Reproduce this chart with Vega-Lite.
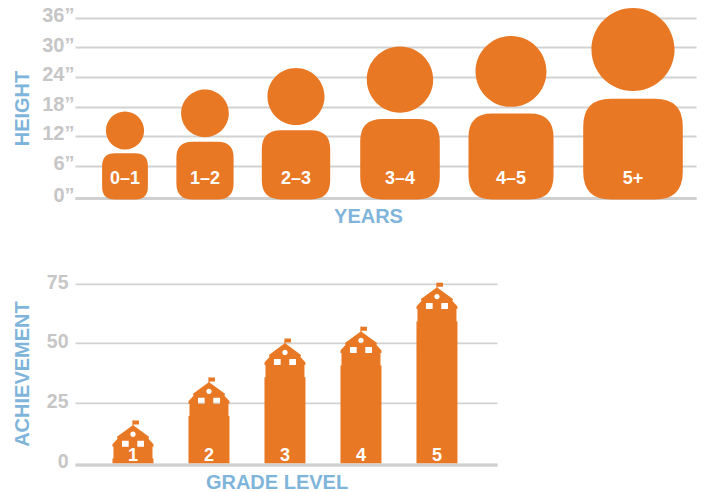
{
"$schema":"https://vega.github.io/schema/vega-lite/v6.json",
"background":"white",
"padding":{"left":11,"top":5,"right":4,"bottom":6},
"bounds":"flush",
"spacing":85.8,
"config":{"view":{"stroke":null},"font":"Liberation Sans",
"axisY":{"titleX":-53,"titleBaseline":"middle","titleFont":"Liberation Sans","titleFontSize":20,"titleFontWeight":"bold","titleColor":"#7fb5da","labelFont":"Liberation Sans","labelFontWeight":"bold","labelColor":"#c6c6c6","ticks":false,"domain":false,"grid":true,"gridColor":"#d2d2d2","gridWidth":1.8},
"axisX":{"titleBaseline":"middle","titleAlign":"center","titleFont":"Liberation Sans","titleFontSize":20,"titleFontWeight":"bold","titleColor":"#7fb5da","labels":false,"ticks":false,"grid":false,"domain":true,"domainColor":"#d0d0d0","domainWidth":3}},
"vconcat":[
{
"width":621,"height":180,
"data":{"values":[
{"age":0,"label":"0–1","height":17.6},
{"age":1,"label":"1–2","height":22},
{"age":2,"label":"2–3","height":26.3},
{"age":3,"label":"3–4","height":30.6},
{"age":4,"label":"4–5","height":32.7},
{"age":5,"label":"5+","height":38.3}
]},
"encoding":{"x":{"field":"age","type":"quantitative","scale":{"domain":[-1,0,1,2,3,4,5,6],"range":[0,50,130,221,325,436,558,621],"zero":false,"nice":false},
"axis":{"title":"YEARS","titleX":293,"titleY":18}}},
"layer":[
{"mark":{"type":"point","shape":"M-0.23 0L0.23 0Q0.52 0 0.52 -0.29L0.52 -0.76Q0.52 -1.05 0.23 -1.05L-0.23 -1.05Q-0.52 -1.05 -0.52 -0.76L-0.52 -0.29Q-0.52 0 -0.23 0ZM-0.434 -1.566A0.434 0.434 0 0 1 0.434 -1.566A0.434 0.434 0 0 1 -0.434 -1.566Z","filled":true,"opacity":1,"color":"#e97824","strokeWidth":0,"yOffset":1.4},
"encoding":{
"y":{"datum":0,"type":"quantitative","scale":{"domain":[0,6,36],"range":[180,147.5,0],"zero":false,"nice":false},
"axis":{"title":"HEIGHT","values":[0,6,12,18,24,30,36],"labelExpr":"datum.value+'”'","labelFontSize":20,"labelPadding":1,"labelOffset":-2.5}},
"size":{"field":"height","type":"quantitative","legend":null,"scale":{"type":"pow","exponent":2,"domain":[0,40],"range":[0,40000]}}
}},
{"mark":{"type":"text","color":"white","font":"Liberation Sans","fontWeight":"bold","fontSize":18,"baseline":"middle","align":"center"},
"encoding":{"y":{"datum":3.6,"type":"quantitative","axis":{"title":"HEIGHT","values":[0,6,12,18,24,30,36],"labelExpr":"datum.value+'”'","labelFontSize":20,"labelPadding":1,"labelOffset":-2.5}},"text":{"field":"label","type":"nominal"}}}
]
},
{
"width":422,"height":181,
"data":{"values":[
{"grade":1,"achievement":17.7,"wall":2},
{"grade":2,"achievement":35.6,"wall":19.4},
{"grade":3,"achievement":52,"wall":35.6},
{"grade":4,"achievement":57,"wall":40.6},
{"grade":5,"achievement":75.5,"wall":59.1}
]},
"encoding":{"x":{"field":"grade","type":"quantitative","scale":{"domain":[0.237,5.79],"zero":false,"nice":false,"padding":0},
"axis":{"title":"GRADE LEVEL","titleX":201.5,"titleY":17.5}}},
"layer":[
{"mark":{"type":"bar","width":41,"color":"#e97824"},
"encoding":{"y":{"field":"wall","type":"quantitative","scale":{"domain":[0,25,75],"range":[179.5,118.7,0],"zero":false,"nice":false},
"axis":{"title":"ACHIEVEMENT","values":[0,25,50,75],"labelFontSize":19.5,"labelPadding":7,"labelOffset":-1.5}}}},
{"mark":{"type":"point","size":4,"shape":"M-0.6 0L0.6 0L0.6 0.2L6 0.2L6 4.2L0.6 4.2L0.6 5.2L16 16.5L15.5 18.5L20.5 24L20.5 26.5L19.5 26.5L19.5 39.5L-19.5 39.5L-19.5 26.5L-20.5 26.5L-20.5 24L-15.5 18.5L-16 16.5L-0.6 5.2ZM-11 20.5L-11 26.5L-4.3 26.5L-4.3 20.5ZM4.3 20.5L4.3 26.5L11 26.5L11 20.5ZM-2.7 14A2.7 2.7 0 0 0 2.7 14A2.7 2.7 0 0 0 -2.7 14Z","filled":true,"opacity":1,"color":"#e97824","strokeWidth":0},
"encoding":{"y":{"field":"achievement","type":"quantitative","axis":{"title":"ACHIEVEMENT","values":[0,25,50,75],"labelFontSize":19.5,"labelPadding":7,"labelOffset":-1.5}}}},
{"mark":{"type":"text","color":"white","font":"Liberation Sans","fontWeight":"bold","fontSize":18,"baseline":"middle","align":"center"},
"encoding":{"y":{"datum":3.2,"type":"quantitative","axis":{"title":"ACHIEVEMENT","values":[0,25,50,75],"labelFontSize":19.5,"labelPadding":7,"labelOffset":-1.5}},"text":{"field":"grade","type":"nominal"}}}
]
}
]
}
